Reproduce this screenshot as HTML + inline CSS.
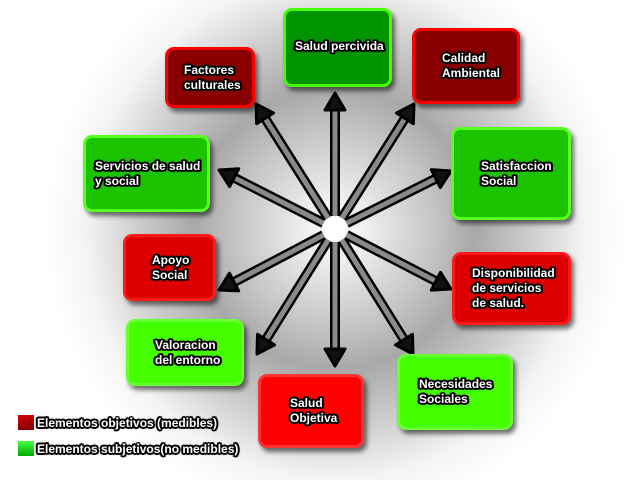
<!DOCTYPE html>
<html><head><meta charset="utf-8"><style>
body{margin:0;width:640px;height:480px;overflow:hidden;position:relative;
background:radial-gradient(circle at 335px 229px,#fff 0,#f2f2f2 25px,#c4c4c4 100px,#a8a8a8 140px,#cfcfcf 200px,#f4f4f4 250px,#fff 290px);}
.b{position:absolute;box-sizing:border-box;border:3px solid;border-radius:9px;box-shadow:3px 4px 5px rgba(0,0,0,.55);
font:bold 12px "Liberation Sans",sans-serif;color:#fff;line-height:15px;
text-shadow:-2px 0 #000,2px 0 #000,0 -2px #000,0 2px #000,-1.5px -1.5px #000,1.5px 1.5px #000,-1.5px 1.5px #000,1.5px -1.5px #000,2px 1px #000,-2px -1px #000,2px -1px #000,-2px 1px #000,0 0 3px #000;
display:flex;align-items:center;}
.dr{background:#8a0000;border-color:#ff0000}
.r{background:#dd0000;border-color:#ff1a1a}
.rr{background:#ff0000;border-color:#ff3333}
.g{background:#009400;border-color:#44ff00}
.mg{background:#1cc400;border-color:#55ff22}
.lg{background:#44ff00;border-color:#66ff33}
.leg{position:absolute;left:18px;font:bold 12px "Liberation Sans",sans-serif;color:#fff;
text-shadow:-2px 0 #000,2px 0 #000,0 -2px #000,0 2px #000,-1.5px -1.5px #000,1.5px 1.5px #000,-1.5px 1.5px #000,1.5px -1.5px #000,0 0 3px #000;}
.sq{display:inline-block;width:16px;height:15px;vertical-align:-3px;margin-right:3px}
</style></head><body>
<svg id="s" width="640" height="480" style="position:absolute;left:0;top:0"></svg>
<div class="b g" style="left:283px;top:8px;width:109px;height:79px;padding-left:9px;align-items:flex-start;padding-top:28px">Salud percivida</div>
<div class="b dr" style="left:412px;top:28px;width:108px;height:76px;padding-left:27px;align-items:flex-start;padding-top:20px">Calidad<br>Ambiental</div>
<div class="b dr" style="left:165px;top:47px;width:90px;height:61px;padding-left:16px">Factores<br>culturales</div>
<div class="b mg" style="left:83px;top:135px;width:127px;height:77px;padding-left:9px">Servicios de salud<br>y social</div>
<div class="b mg" style="left:451px;top:127px;width:120px;height:93px;padding-left:27px">Satisfaccion<br>Social</div>
<div class="b r" style="left:123px;top:234px;width:93px;height:67px;padding-left:26px">Apoyo<br>Social</div>
<div class="b r" style="left:452px;top:252px;width:119px;height:73px;padding-left:17px">Disponibilidad<br>de servicios<br>de salud.</div>
<div class="b lg" style="left:126px;top:319px;width:118px;height:67px;padding-left:26px">Valoracion<br>del entorno</div>
<div class="b rr" style="left:258px;top:374px;width:106px;height:74px;padding-left:29px">Salud<br>Objetiva</div>
<div class="b lg" style="left:397px;top:354px;width:116px;height:76px;padding-left:19px">Necesidades<br>Sociales</div>
<div class="leg" style="top:415px"><span class="sq" style="background:linear-gradient(#c00,#800)"></span>Elementos objetivos (medibles)</div>
<div class="leg" style="top:441px"><span class="sq" style="background:linear-gradient(#4f4,#0a0)"></span>Elementos subjetivos(no medibles)</div>
<script>
var s=document.getElementById('s'),cx=335,cy=229,h='';
var t=[[335,93],[414,104],[256,104],[219,170],[451,171],[219,290],[451,289],[257,354],[335,366],[413,354]];
t.forEach(function(p){var dx=p[0]-cx,dy=p[1]-cy,L=Math.hypot(dx,dy),ux=dx/L,uy=dy/L,nx=-uy,ny=ux;
var sx=cx+ux*13,sy=cy+uy*13,ex=p[0]-ux*14,ey=p[1]-uy*14;
h+='<line x1="'+sx+'" y1="'+sy+'" x2="'+ex+'" y2="'+ey+'" stroke="#000" stroke-width="10"/>';
h+='<line x1="'+sx+'" y1="'+sy+'" x2="'+ex+'" y2="'+ey+'" stroke="#8a8a8a" stroke-width="5"/>';
var bx=p[0]-ux*17,by=p[1]-uy*17;
h+='<polygon points="'+p[0]+','+p[1]+' '+(bx+nx*10)+','+(by+ny*10)+' '+(bx-nx*10)+','+(by-ny*10)+'" fill="#111" stroke="#000" stroke-width="3" stroke-linejoin="round"/>';});
h+='<circle cx="335" cy="229" r="11" fill="#fff"/>';
s.innerHTML=h;
</script>
</body></html>
